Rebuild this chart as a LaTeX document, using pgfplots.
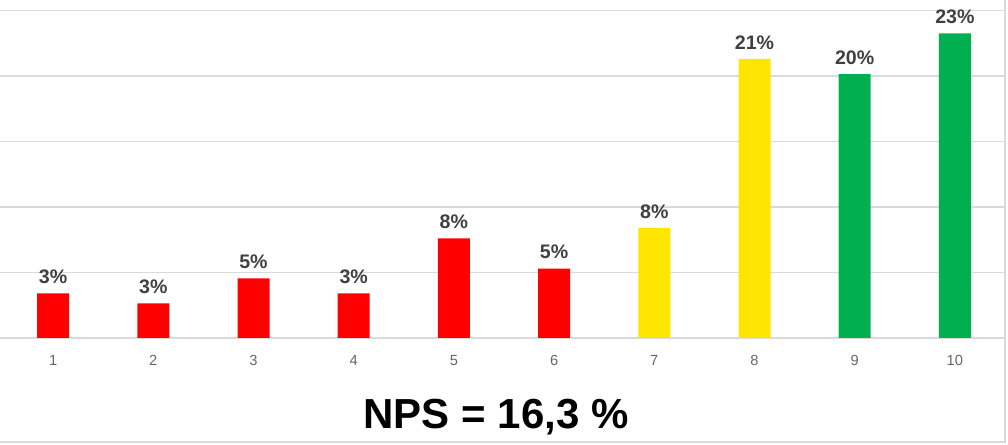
\documentclass[border=0pt]{standalone}
\usepackage{pgfplots}
\pgfplotsset{compat=1.18}
\usepackage{fontspec}
\setmainfont{Liberation Sans}
\definecolor{cred}{HTML}{FF0000}
\definecolor{cyel}{HTML}{FFE500}
\definecolor{cgrn}{HTML}{00B050}
\definecolor{cgrid}{HTML}{DADADA}
\definecolor{clab}{HTML}{404040}
\definecolor{ctick}{HTML}{666666}
\begin{document}
\begin{tikzpicture}[x=0.75pt,y=0.75pt]
\useasboundingbox (0,0) rectangle (1008,445);
\begin{axis}[
  at={(0pt,80.25pt)}, anchor=south west,
  scale only axis, width=753.75pt, height=245.6pt,
  xmin=0.47, xmax=10.5, ymin=0, ymax=25,
  clip=false,
  axis line style={draw=none},
  ytick={0,5,10,15,20,25}, yticklabels={},
  ymajorgrids, grid style={color=cgrid, line width=0.9pt},
  xtick={1,...,10},
  tick style={draw=none},
  /pgf/number format/assume math mode=true,
  xticklabel style={text=ctick, font=\fontsize{11}{13}\selectfont, yshift=-5pt},
  ybar, bar width=24pt, bar shift=0pt,
  nodes near coords, point meta=explicit symbolic,
  every node near coord/.append style={font=\bfseries\fontsize{14.7}{16}\selectfont, text=clab, inner sep=7pt},
]
\addplot[fill=cred, draw=none] coordinates {(1,3.4) [3\%] (2,2.65) [3\%] (3,4.56) [5\%] (4,3.4) [3\%] (5,7.6) [8\%] (6,5.3) [5\%]};
\addplot[fill=cyel, draw=none] coordinates {(7,8.4) [8\%] (8,21.3) [21\%]};
\addplot[fill=cgrn, draw=none] coordinates {(9,20.15) [20\%] (10,23.25) [23\%]};
\end{axis}
\draw[cgrid, line width=0.9pt] (0,3) -- (1005,3) -- (1005,445);
\node[font=\bfseries\fontsize{31.5}{36}\selectfont, text=black] at (496,28) {NPS = 16,3 \%};
\end{tikzpicture}
\end{document}
